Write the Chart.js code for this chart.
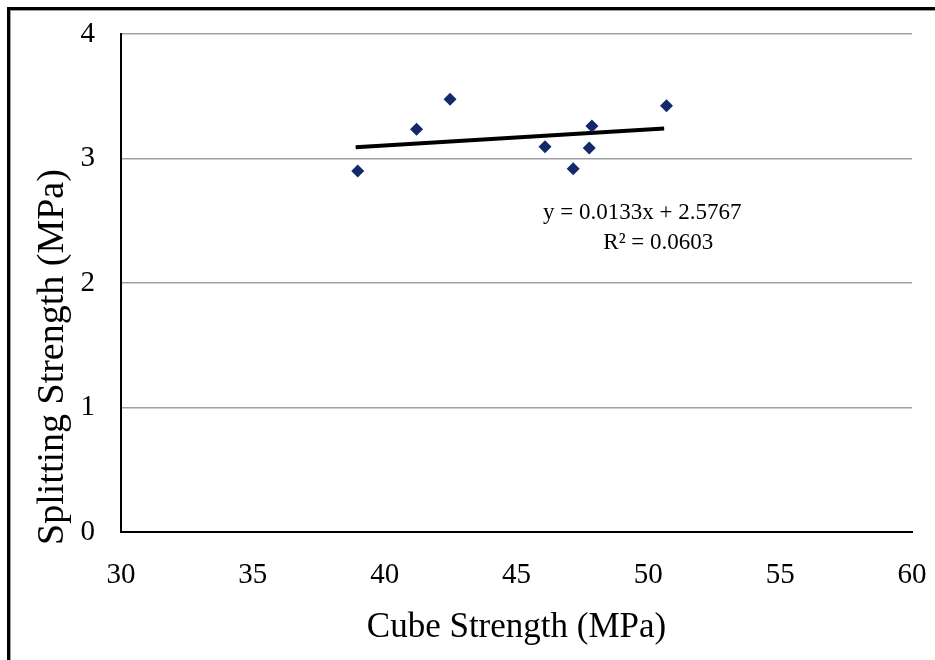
<!DOCTYPE html>
<html>
<head>
<meta charset="utf-8">
<script src="https://cdn.jsdelivr.net/npm/chart.js@4.4.1/dist/chart.umd.min.js"></script>
<style>
    html, body { margin: 0; padding: 0; background: #fff; overflow: hidden; }
    #wrap { position: relative; width: 935px; height: 660px; }
    #frame {
        position: absolute; left: 7px; top: 7px; width: 960px; height: 700px;
        border-left: 3px solid #000; border-top: 3px solid #000;
        box-shadow: inset 1px 1px 0 #999;
        pointer-events: none;
    }
</style>
</head>
<body>
<div id="wrap">
    <canvas id="chart" width="935" height="660"></canvas>
    <div id="frame"></div>
</div>
<script>
// Valores
const cubeStrength = [38.98, 41.21, 42.48, 46.08, 47.15, 47.76, 47.86, 50.69];
const splittingStrength = [2.90, 3.235, 3.475, 3.095, 2.918, 3.084, 3.261, 3.424];
const trendX = [38.9, 50.6];
const trendY = [3.09, 3.24];
const equationLines = ["y = 0.0133x + 2.5767", "R² = 0.0603"];
const yTitle = "Splitting Strength (MPa)";

const SERIF = "'Liberation Serif', 'Times New Roman', serif";

// Rótulo da equação e título do eixo Y (deslocado para baixo como no original)
const extraText = {
    id: "extraText",
    afterDatasetsDraw(chart) {
        const { ctx, scales } = chart;
        const spots = [[49.77, 2.563], [50.38, 2.323]];
        ctx.save();
        ctx.fillStyle = "#000";
        ctx.font = "23px " + SERIF;
        ctx.textAlign = "center";
        ctx.textBaseline = "middle";
        equationLines.forEach((line, i) => {
            ctx.fillText(line, scales.x.getPixelForValue(spots[i][0]), scales.y.getPixelForValue(spots[i][1]));
        });
        ctx.translate(53, 357);
        ctx.rotate(-Math.PI / 2);
        ctx.font = "38px " + SERIF;
        ctx.fillText(yTitle, 0, 0);
        ctx.restore();
    },
};

new Chart(document.getElementById("chart").getContext("2d"), {
    type: "scatter",
    plugins: [extraText],
    data: {
        datasets: [
            {
                data: cubeStrength.map((x, i) => ({ x: x, y: splittingStrength[i] })),
                pointStyle: "rectRot",
                pointRadius: 6.5,
                backgroundColor: "#13296A",
                borderColor: "#13296A",
                borderWidth: 0,
            },
            {
                type: "line",
                data: trendX.map((x, i) => ({ x: x, y: trendY[i] })),
                borderColor: "#000",
                borderWidth: 4,
                pointRadius: 0,
                fill: false,
            },
        ],
    },
    options: {
        responsive: false,
        animation: false,
        layout: { padding: { left: 0, top: 34, right: 23, bottom: 0 } },
        plugins: { legend: { display: false }, tooltip: { enabled: false } },
        scales: {
            x: {
                type: "linear",
                min: 30,
                max: 60,
                afterFit: (s) => {
                    s.height = 128;
                    s.paddingLeft = 0;
                    s.paddingRight = 0;
                },
                grid: { display: false, drawTicks: false },
                border: { display: true, color: "#000", width: 2 },
                ticks: { stepSize: 5, padding: 26, color: "#000", font: { size: 29, family: SERIF } },
                title: {
                    display: true,
                    text: "Cube Strength (MPa)",
                    color: "#000",
                    font: { size: 35, family: SERIF },
                    padding: { top: 0, bottom: 11 },
                },
            },
            y: {
                min: 0,
                max: 4,
                afterFit: (s) => {
                    s.width = 121;
                    s.paddingTop = 0;
                    s.paddingBottom = 0;
                },
                grid: {
                    drawTicks: false,
                    color: (c) => (c.tick && c.tick.value === 0 ? "rgba(0,0,0,0)" : "#A0A0A0"),
                    lineWidth: 1.5,
                },
                border: { display: true, color: "#000", width: 2 },
                ticks: { stepSize: 1, padding: 26, color: "#000", font: { size: 29, family: SERIF } },
                title: { display: false },
            },
        },
    },
});
</script>
</body>
</html>
